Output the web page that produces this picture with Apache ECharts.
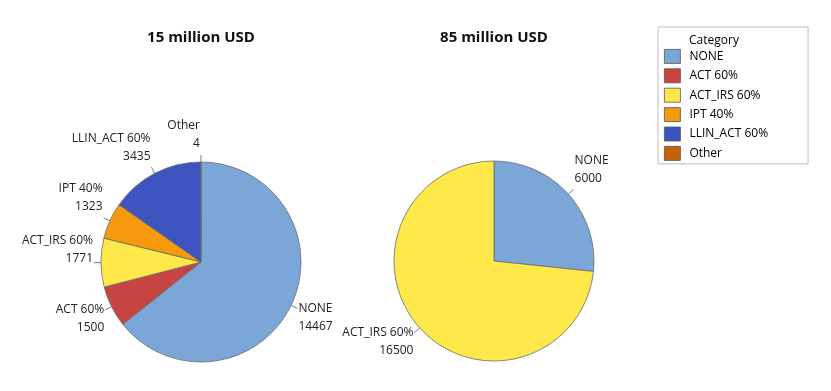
<!DOCTYPE html>
<html>
<head>
    <meta charset="UTF-8">
    <title></title>
    <script src="https://cdn.jsdelivr.net/npm/echarts@6/dist/echarts.min.js"></script>
</head>
<body style="margin:0">
    <div id="main" style="width:831px;height:391px"></div>
    <script>
        var categories = ['NONE', 'ACT 60%', 'ACT_IRS 60%', 'IPT 40%', 'LLIN_ACT 60%', 'Other'];
        var colors = ['#7BA7D8', '#C84443', '#FFE94A', '#F59A0C', '#3D54BE', '#C8620A'];
        // 15 million USD
        var leftValues = [14467, 1500, 1771, 1323, 3435, 4];
        // 85 million USD (only two categories)
        var rightNames = ['NONE', 'ACT_IRS 60%'];
        var rightValues = [6000, 16500];

        // where each label sits around its pie: 1 upper half, 0 near horizontal, -1 lower half
        var sides = [];
        function buildData(names, values) {
            var total = values.reduce(function (a, b) { return a + b; }, 0);
            var acc = 0;
            var s = [];
            var data = names.map(function (c, i) {
                var mid = 90 - (acc + values[i] / 2) / total * 360;
                acc += values[i];
                var sin = Math.sin(mid * Math.PI / 180);
                s.push(sin > 0.2 ? 1 : (sin < -0.2 ? -1 : 0));
                return {name: c, value: values[i], itemStyle: {color: colors[categories.indexOf(c)]}};
            });
            sides.push(s);
            return data;
        }
        var leftData = buildData(categories, leftValues);
        var rightData = buildData(rightNames, rightValues);

        var font = '"Open Sans", "Noto Sans", sans-serif';
        var pieCommon = {
            type: 'pie',
            radius: 100,
            startAngle: 90,
            clockwise: true,
            animation: false,
            avoidLabelOverlap: false,
            labelLayout: function (p) {
                var h = p.labelRect.height / 2;
                var s = sides[p.seriesIndex][p.dataIndex];
                var dy = s === 1 ? -h - 2 : (s === -1 ? h - 9 : -h + 5);
                return {dy: dy, hideOverlap: false};
            },
            itemStyle: {borderColor: '#6b6b6b', borderWidth: 0.8},
            label: {
                formatter: '{b}\n{c}',
                color: '#222',
                fontSize: 12,
                fontFamily: font,
                lineHeight: 18,
                distanceToLabelLine: 1
            },
            labelLine: {length: 7, length2: 0, lineStyle: {color: '#555', width: 0.8}},
            emphasis: {disabled: true}
        };

        var app = echarts.init(document.getElementById('main'));
        var option = {
            color: colors,
            title: [
                {text: '15 million USD', left: 196, top: 25, textAlign: 'center',
                 textStyle: {fontSize: 15, fontWeight: 'bold', fontFamily: font, color: '#111'}},
                {text: '85 million USD', left: 489, top: 25, textAlign: 'center',
                 textStyle: {fontSize: 15, fontWeight: 'bold', fontFamily: font, color: '#111'}},
                {text: 'Category', left: 684, top: 30,
                 textStyle: {fontSize: 12, fontWeight: 'normal', fontFamily: font, color: '#000'}}
            ],
            legend: {
                orient: 'vertical',
                left: 658,
                top: 27,
                data: categories,
                icon: 'rect',
                itemWidth: 16,
                itemHeight: 14,
                itemGap: 4.6,
                padding: [22, 40, 3, 6],
                borderColor: '#bdbdbd',
                borderWidth: 1,
                selectedMode: false,
                itemStyle: {borderColor: '#555', borderWidth: 0.8},
                textStyle: {fontSize: 12, fontFamily: font, color: '#000', padding: [0, 0, 0, 4]}
            },
            series: [
                Object.assign({}, pieCommon, {name: '15 million USD', center: [201, 262], data: leftData}),
                Object.assign({}, pieCommon, {name: '85 million USD', center: [494, 261], data: rightData})
            ]
        };
        app.setOption(option);
    </script>
</body>
</html>
